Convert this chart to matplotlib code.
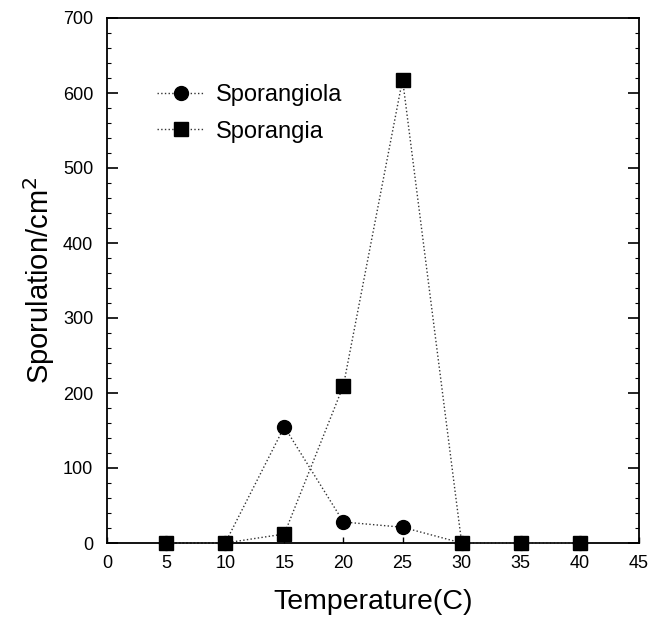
import matplotlib
matplotlib.use("Agg")
import matplotlib.pyplot as plt
from matplotlib.ticker import MultipleLocator

plt.rcParams['font.family'] = ['Liberation Sans', 'DejaVu Sans']

temperature = [5, 10, 15, 20, 25, 30, 35, 40]
sporangiola = [0, 0, 155, 28, 21, 0, 0, 0]
sporangia = [0, 0, 12, 210, 618, 0, 0, 0]

fig = plt.figure(figsize=(6.61, 6.19), dpi=100)
ax = fig.add_axes([107/661, 1 - 543/619, (639-107)/661, (543-18)/619])

ax.plot(temperature, sporangiola, linestyle=':', color='#333333', lw=1.0,
        marker='o', markersize=10, markerfacecolor='black', markeredgecolor='black',
        label='Sporangiola', clip_on=False, zorder=3)
ax.plot(temperature, sporangia, linestyle=':', color='#333333', lw=1.0,
        marker='s', markersize=9.5, markerfacecolor='black', markeredgecolor='black',
        label='Sporangia', clip_on=False, zorder=3)

ax.set_xlim(0, 45)
ax.set_ylim(0, 700)
ax.xaxis.set_major_locator(MultipleLocator(5))
ax.yaxis.set_major_locator(MultipleLocator(100))
ax.yaxis.set_minor_locator(MultipleLocator(20))
ax.tick_params(axis='y', which='major', direction='in', length=8, width=1.2,
               right=True, labelsize=13, pad=10)
ax.tick_params(axis='y', which='minor', direction='in', length=3, width=0.8, right=True)
ax.tick_params(axis='x', which='major', direction='in', length=4, width=1.0, labelsize=13, pad=9)

for s in ax.spines.values():
    s.set_linewidth(1.3)

ax.set_xlabel('Temperature(C)', fontsize=20.5, labelpad=12)
ax.set_ylabel('Sporulation/cm$^2$', fontsize=21, labelpad=4)

ax.legend(loc='upper left', bbox_to_anchor=(0.063, 0.905), frameon=False,
          fontsize=17, handlelength=2.0, handletextpad=0.5, labelspacing=0.6,
          borderpad=0.2)

fig.savefig('out.png', dpi=100)
